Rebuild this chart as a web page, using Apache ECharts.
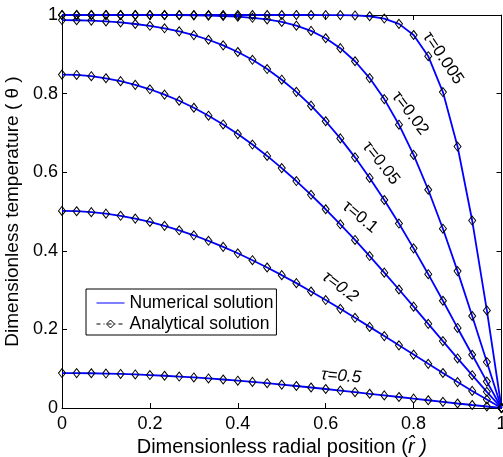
<!DOCTYPE html>
<html>
<head>
<meta charset="utf-8">
<script src="https://cdn.jsdelivr.net/npm/echarts@6/dist/echarts.min.js"></script>
<style>
  html, body { margin: 0; padding: 0; background: #fff; }
  #chart { width: 503px; height: 457px; }
</style>
</head>
<body>
<div id="chart"></div>
<script>
// Radial positions of the sampled nodes (r̂ = 0 ... 1)
const radialPos = [0, 0.0333, 0.0667, 0.1, 0.1333, 0.1667, 0.2, 0.2333, 0.2667, 0.3,
  0.3333, 0.3667, 0.4, 0.4333, 0.4667, 0.5, 0.5333, 0.5667, 0.6, 0.6333,
  0.6667, 0.7, 0.7333, 0.7667, 0.8, 0.8333, 0.8667, 0.9, 0.9333, 0.9667, 1];

// Dimensionless temperature profiles, one per dimensionless time
const thetaTau0005 = [1, 1, 1, 1, 1, 1, 1, 1, 1, 1,
  1, 1, 1, 1, 1, 1, 1, 1, 0.9999, 0.9997,
  0.9989, 0.9968, 0.9910, 0.9775, 0.9491, 0.8952, 0.8039, 0.6653, 0.4770, 0.2482, 0];
const thetaTau002 = [1, 1, 1, 1, 1, 1, 0.9999, 0.9997, 0.9995, 0.9991,
  0.9985, 0.9974, 0.9957, 0.9929, 0.9887, 0.9823, 0.9729, 0.9595, 0.9409, 0.9156,
  0.8823, 0.8395, 0.7860, 0.7209, 0.6440, 0.5554, 0.4562, 0.3483, 0.2341, 0.1169, 0];
const thetaTau005 = [0.9871, 0.9867, 0.9857, 0.9837, 0.9811, 0.9771, 0.9725, 0.9662, 0.9584, 0.9489,
  0.9370, 0.9228, 0.9058, 0.8860, 0.8625, 0.8354, 0.8045, 0.7693, 0.7297, 0.6860,
  0.6378, 0.5855, 0.5292, 0.4693, 0.4062, 0.3405, 0.2729, 0.2037, 0.1355, 0.0672, 0];
const thetaTau01 = [0.8484, 0.8474, 0.8443, 0.8390, 0.8317, 0.8223, 0.8110, 0.7974, 0.7818, 0.7640,
  0.7438, 0.7215, 0.6970, 0.6703, 0.6414, 0.6104, 0.5775, 0.5425, 0.5057, 0.4674,
  0.4276, 0.3866, 0.3444, 0.3015, 0.2579, 0.2141, 0.1702, 0.1261, 0.0835, 0.0412, 0];
const thetaTau02 = [0.5015, 0.5007, 0.4984, 0.4945, 0.4890, 0.4820, 0.4735, 0.4635, 0.4522, 0.4395,
  0.4254, 0.4101, 0.3937, 0.3761, 0.3575, 0.3380, 0.3177, 0.2965, 0.2747, 0.2523,
  0.2295, 0.2064, 0.1830, 0.1594, 0.1359, 0.1124, 0.0891, 0.0659, 0.0435, 0.0215, 0];
const thetaTau05 = [0.0889, 0.0888, 0.0884, 0.0877, 0.0867, 0.0854, 0.0839, 0.0821, 0.0800, 0.0777,
  0.0752, 0.0725, 0.0695, 0.0664, 0.0631, 0.0596, 0.0560, 0.0522, 0.0483, 0.0444,
  0.0403, 0.0362, 0.0321, 0.0280, 0.0238, 0.0197, 0.0156, 0.0115, 0.0076, 0.0038, 0];

const tauValues = ['0.005', '0.02', '0.05', '0.1', '0.2', '0.5'];
const profiles = [thetaTau0005, thetaTau002, thetaTau005, thetaTau01, thetaTau02, thetaTau05];

// Curve annotations: anchor in data space, tilt in degrees (clockwise)
const curveNotes = [
  { tau: '0.005', r: 0.867, theta: 0.890, tilt: 56, italic: false },
  { tau: '0.02',  r: 0.792, theta: 0.750, tilt: 53, italic: false },
  { tau: '0.05',  r: 0.726, theta: 0.623, tilt: 52, italic: false },
  { tau: '0.1',   r: 0.678, theta: 0.486, tilt: 40, italic: false },
  { tau: '0.2',   r: 0.633, theta: 0.308, tilt: 37, italic: true },
  { tau: '0.5',   r: 0.635, theta: 0.081, tilt: 5,  italic: true }
];

const tickLabels = ['0', '0.2', '0.4', '0.6', '0.8', '1'];
const seriesNames = ['Numerical solution', 'Analytical solution'];

const FONT = '"Liberation Sans", Arial, Helvetica, sans-serif';
const chart = echarts.init(document.getElementById('chart'), null, { renderer: 'canvas' });

const series = [];
profiles.forEach((vals, i) => {
  const pts = radialPos.map((r, j) => [r, vals[j]]);
  series.push({
    type: 'line', name: seriesNames[0], data: pts,
    symbol: 'none', showSymbol: false,
    lineStyle: { color: '#0000ff', width: 1.8 },
    itemStyle: { color: '#0000ff' },
    z: 3, silent: true, animation: false
  });
  series.push({
    type: 'line', name: seriesNames[1], data: pts,
    symbol: 'diamond', symbolSize: [7, 9], showSymbol: true, showAllSymbol: true,
    lineStyle: { opacity: 0, width: 0 },
    itemStyle: { color: 'rgba(0,0,0,0)', borderColor: '#000', borderWidth: 1 },
    z: 4, silent: true, animation: false
  });
});

const tickFmt = v => tickLabels[Math.round(v / 0.2)];
const axisCommon = {
  type: 'value', min: 0, max: 1, interval: 0.2,
  axisLine: { show: true, onZero: false, lineStyle: { color: '#000', width: 1 } },
  axisTick: { show: true, inside: true, length: 5, lineStyle: { color: '#000', width: 1 } },
  splitLine: { show: false }
};

chart.setOption({
  animation: false,
  backgroundColor: '#fff',
  grid: { left: 62, right: 1.5, top: 15, bottom: 49, containLabel: false, outerBoundsMode: 'none' },
  xAxis: [
    Object.assign({}, axisCommon, {
      position: 'bottom',
      name: '{a|Dimensionless radial position (}{b|r\u0302 )}',
      nameLocation: 'middle', nameGap: 17,
      nameTextStyle: {
        fontFamily: FONT, fontSize: 20, color: '#000', verticalAlign: 'top',
        rich: {
          a: { fontFamily: FONT, fontSize: 20, color: '#000' },
          b: { fontFamily: FONT, fontSize: 20, color: '#000', fontStyle: 'italic' }
        }
      },
      axisLabel: { show: true, margin: 7, fontFamily: FONT, fontSize: 18, color: '#000',
        formatter: tickFmt, showMinLabel: true, showMaxLabel: true, hideOverlap: false }
    }),
    Object.assign({}, axisCommon, { position: 'top', axisLabel: { show: false } })
  ],
  yAxis: [
    Object.assign({}, axisCommon, {
      position: 'left',
      name: 'Dimensionless temperature ( \u03b8 )',
      nameLocation: 'middle', nameGap: 32, nameRotate: 90,
      nameTextStyle: { fontFamily: FONT, fontSize: 19, color: '#000' },
      axisLabel: { show: true, margin: 4, fontFamily: FONT, fontSize: 18, color: '#000',
        formatter: tickFmt, showMinLabel: true, showMaxLabel: true, hideOverlap: false }
    }),
    Object.assign({}, axisCommon, { position: 'right', axisLabel: { show: false } })
  ],
  legend: {
    show: true, orient: 'vertical', left: 86, top: 289,
    padding: [5, 3, 2, 10], itemGap: 3, itemWidth: 28, itemHeight: 10,
    borderColor: '#000', borderWidth: 1, borderRadius: 0, backgroundColor: '#fff',
    selectedMode: false,
    textStyle: { fontFamily: FONT, fontSize: 17.5, color: '#000' },
    data: [
      { name: seriesNames[0],
        itemStyle: { color: 'rgba(0,0,0,0)', borderWidth: 0, opacity: 0 },
        lineStyle: { color: '#0000ff', width: 1, type: 'solid', opacity: 1 } },
      { name: seriesNames[1],
        itemStyle: { color: 'rgba(0,0,0,0)', borderColor: '#000', borderWidth: 1, opacity: 1 },
        lineStyle: { color: '#000', width: 1, type: [4, 3, 1, 3], opacity: 1 } }
    ]
  },
  series: series
});

// Curve annotations placed through the grid's coordinate system
const notes = curveNotes.map(n => {
  const p = chart.convertToPixel({ gridIndex: 0 }, [n.r, n.theta]);
  return {
    type: 'text', x: p[0], y: p[1],
    rotation: -n.tilt * Math.PI / 180,
    silent: true, z: 10,
    style: {
      text: '\u03c4=' + n.tau,
      fontFamily: FONT, fontSize: 17, fontStyle: n.italic ? 'italic' : 'normal',
      fill: '#000', align: 'center', verticalAlign: 'middle',
      textAlign: 'center', textVerticalAlign: 'middle'
    }
  };
});
chart.setOption({ graphic: notes });
</script>
</body>
</html>
